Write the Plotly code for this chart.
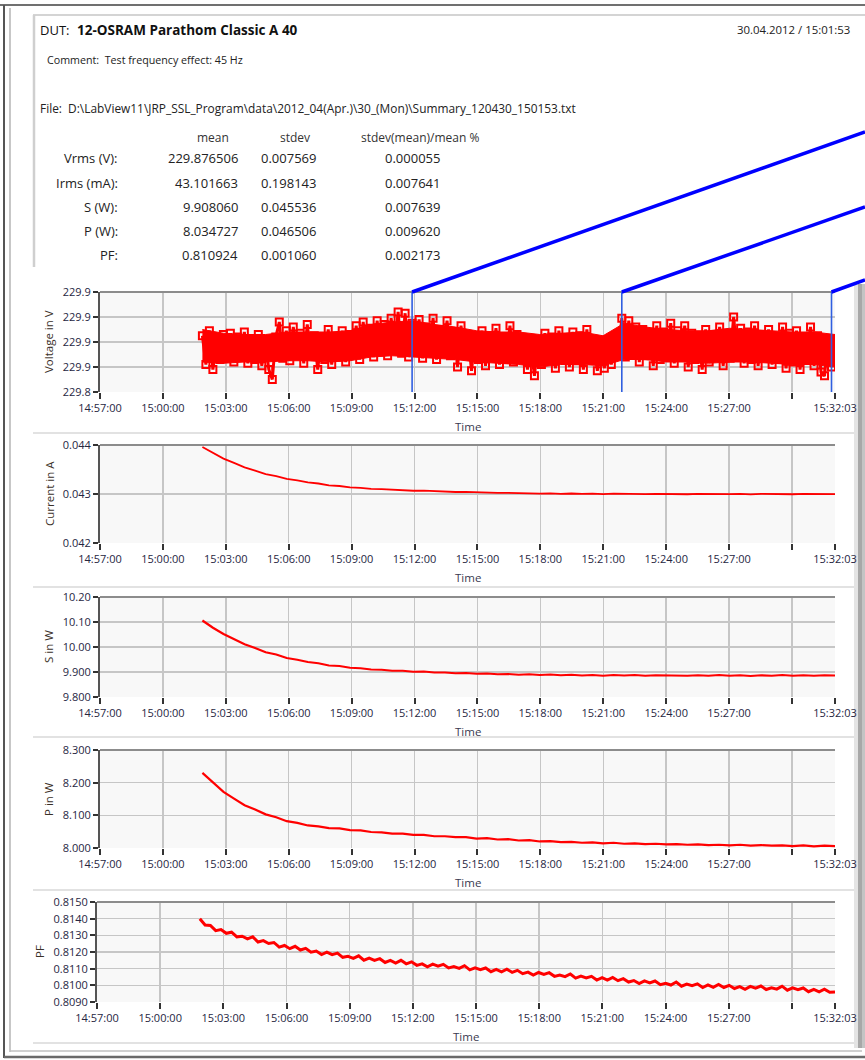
import plotly.graph_objects as go
import pandas as pd

# ---------------- data ----------------
DAY = "2012-04-30 "
axis_start = DAY + "14:57:00"
axis_end = DAY + "15:32:03"
data_start = DAY + "15:01:53"
data_end = DAY + "15:32:03"

tick_times = ["14:57:00", "15:00:00", "15:03:00", "15:06:00", "15:09:00", "15:12:00",
              "15:15:00", "15:18:00", "15:21:00", "15:24:00", "15:27:00", "15:30:00", "15:32:03"]
tick_labels = ["14:57:00", "15:00:00", "15:03:00", "15:06:00", "15:09:00", "15:12:00",
               "15:15:00", "15:18:00", "15:21:00", "15:24:00", "15:27:00", "", "15:32:03"]

cursor_times = ["15:11:53", "15:21:53", "15:31:53"]

voltage = [
    229.885, 229.862, 229.889, 229.858, 229.880, 229.866, 229.886,
    229.868, 229.887, 229.864, 229.884, 229.870, 229.888, 229.863, 229.882, 229.866,
    229.886, 229.861, 229.880, 229.858, 229.850, 229.884, 229.896, 229.867, 229.889,
    229.865, 229.892, 229.869, 229.887, 229.863, 229.894, 229.871, 229.885, 229.858,
    229.884, 229.866, 229.890, 229.862, 229.882, 229.868, 229.889, 229.864, 229.886,
    229.870, 229.893, 229.866, 229.896, 229.874, 229.891, 229.868, 229.897, 229.872,
    229.894, 229.869, 229.899, 229.876, 229.904, 229.871, 229.903, 229.868, 229.895,
    229.874, 229.898, 229.867, 229.892, 229.872, 229.899, 229.866, 229.890, 229.875,
    229.897, 229.869, 229.888, 229.860, 229.893, 229.870, 229.886, 229.857, 229.884,
    229.866, 229.889, 229.861, 229.885, 229.868, 229.891, 229.862, 229.883, 229.866,
    229.893, 229.864, 229.886, 229.870, 229.882, 229.858, 229.876, 229.853, 229.880,
    229.862, 229.887, 229.866, 229.884, 229.859, 229.889, 229.868, 229.882, 229.860,
    229.888, 229.865, 229.885, 229.858, 229.890, 229.867, 229.881, 229.857, 229.876,
    229.859, 229.879, 229.862, 229.884, 229.870, 229.899, 229.868, 229.897, 229.872,
    229.892, 229.864, 229.890, 229.869, 229.886, 229.861, 229.893, 229.866, 229.888,
    229.868, 229.895, 229.863, 229.889, 229.870, 229.893, 229.860, 229.887, 229.866,
    229.884, 229.858, 229.890, 229.864, 229.886, 229.869, 229.892, 229.861, 229.885,
    229.867, 229.900, 229.870, 229.891, 229.863, 229.888, 229.866, 229.893, 229.861,
    229.886, 229.869, 229.890, 229.862, 229.884, 229.866, 229.892, 229.859, 229.887,
    229.864, 229.889, 229.858, 229.883, 229.867, 229.892, 229.861, 229.885, 229.856,
    229.853, 229.880, 229.860, 229.874,
]

# dense core of the voltage scatter, one reading per minute (low / high edge)
voltage_core_low = [
    229.864, 229.863, 229.864, 229.864, 229.865, 229.865, 229.864, 229.865, 229.868, 229.869,
    229.868, 229.867, 229.866, 229.864, 229.863, 229.862, 229.860, 229.862, 229.862, 229.861,
    229.866, 229.866, 229.864, 229.864, 229.863, 229.864, 229.864, 229.863, 229.862, 229.862,
    229.860,
]
voltage_core_high = [
    229.890, 229.887, 229.886, 229.886, 229.888, 229.888, 229.888, 229.889, 229.894, 229.896,
    229.897, 229.894, 229.892, 229.889, 229.888, 229.888, 229.886, 229.887, 229.888, 229.885,
    229.895, 229.892, 229.890, 229.889, 229.889, 229.891, 229.890, 229.889, 229.888, 229.888,
    229.886,
]

current = [
    0.043960, 0.043835, 0.043722, 0.043634, 0.043545, 0.043478, 0.043408, 0.043365, 0.043308, 0.043276,
    0.043236, 0.043214, 0.043176, 0.043163, 0.043135, 0.043124, 0.043103, 0.043098, 0.043085, 0.043081,
    0.043066, 0.043068, 0.043055, 0.043052, 0.043041, 0.043043, 0.043031, 0.043034, 0.043022, 0.043025,
    0.043016, 0.043020, 0.043008, 0.043014, 0.043004, 0.043010, 0.043001, 0.043008, 0.042998, 0.043006,
    0.042999, 0.043005, 0.042996, 0.043004, 0.042998, 0.043006, 0.042995, 0.043003, 0.042997, 0.043005,
    0.042996, 0.043002, 0.042994, 0.043004, 0.042997, 0.043003, 0.042995, 0.043002, 0.042996, 0.043003,
    0.042998,
]

apparent_power = [
    10.106, 10.077, 10.052, 10.030, 10.011, 9.996, 9.979, 9.970, 9.956, 9.949,
    9.940, 9.935, 9.926, 9.924, 9.917, 9.915, 9.910, 9.909, 9.905, 9.905,
    9.901, 9.902, 9.898, 9.898, 9.895, 9.896, 9.893, 9.894, 9.891, 9.892,
    9.889, 9.891, 9.888, 9.890, 9.887, 9.889, 9.886, 9.888, 9.885, 9.888,
    9.886, 9.888, 9.885, 9.887, 9.886, 9.888, 9.885, 9.887, 9.885, 9.888,
    9.885, 9.887, 9.884, 9.887, 9.885, 9.888, 9.885, 9.887, 9.885, 9.887,
    9.886,
]

active_power = [
    8.230, 8.201, 8.172, 8.151, 8.131, 8.118, 8.103, 8.094, 8.082, 8.077,
    8.069, 8.066, 8.061, 8.060, 8.055, 8.054, 8.049, 8.048, 8.044, 8.044,
    8.040, 8.040, 8.036, 8.036, 8.033, 8.033, 8.029, 8.030, 8.026, 8.027,
    8.023, 8.024, 8.020, 8.021, 8.018, 8.019, 8.016, 8.017, 8.014, 8.016,
    8.013, 8.014, 8.012, 8.013, 8.011, 8.012, 8.010, 8.011, 8.009, 8.010,
    8.008, 8.010, 8.007, 8.009, 8.007, 8.008, 8.006, 8.008, 8.005, 8.007,
    8.006,
]

power_factor = [
    0.81400, 0.81362, 0.81359, 0.81328, 0.81335, 0.81312, 0.81319, 0.81291, 0.81295, 0.81279,
    0.81291, 0.81260, 0.81268, 0.81251, 0.81257, 0.81229, 0.81239, 0.81220, 0.81234, 0.81212,
    0.81222, 0.81199, 0.81206, 0.81185, 0.81199, 0.81184, 0.81193, 0.81168, 0.81174, 0.81162,
    0.81177, 0.81151, 0.81163, 0.81150, 0.81160, 0.81137, 0.81150, 0.81134, 0.81150, 0.81129,
    0.81141, 0.81120, 0.81129, 0.81111, 0.81127, 0.81115, 0.81126, 0.81104, 0.81112, 0.81102,
    0.81118, 0.81093, 0.81105, 0.81094, 0.81104, 0.81082, 0.81096, 0.81081, 0.81097, 0.81078,
    0.81090, 0.81070, 0.81079, 0.81061, 0.81077, 0.81065, 0.81076, 0.81054, 0.81062, 0.81052,
    0.81068, 0.81043, 0.81055, 0.81044, 0.81054, 0.81032, 0.81046, 0.81031, 0.81047, 0.81028,
    0.81040, 0.81020, 0.81029, 0.81011, 0.81027, 0.81015, 0.81026, 0.81004, 0.81012, 0.81002,
    0.81020, 0.80995, 0.81008, 0.80998, 0.81009, 0.80987, 0.81003, 0.80988, 0.81005, 0.80987,
    0.81000, 0.80981, 0.80992, 0.80976, 0.80994, 0.80983, 0.80996, 0.80975, 0.80985, 0.80977,
    0.80995, 0.80971, 0.80985, 0.80974, 0.80984, 0.80962, 0.80976, 0.80961, 0.80977, 0.80958,
    0.80960,
]

# summary table
table_rows = ["Vrms (V):", "Irms (mA):", "S (W):", "P (W):", "PF:"]
table_mean = ["229.876506", "43.101663", "9.908060", "8.034727", "0.810924"]
table_stdev = ["0.007569", "0.198143", "0.045536", "0.046506", "0.001060"]
table_rel = ["0.000055", "0.007641", "0.007639", "0.009620", "0.002173"]
table_cols = ["mean", "stdev", "stdev(mean)/mean %"]

dut_name = "12-OSRAM Parathom Classic A 40"
timestamp = "30.04.2012 / 15:01:53"
comment = "Comment:  Test frequency effect: 45 Hz"
file_path = "File:  D:\\LabView11\\JRP_SSL_Program\\data\\2012_04(Apr.)\\30_(Mon)\\Summary_120430_150153.txt"

# y axes: (title, range, tickvals, ticktext)
y_specs = [
    ("Voltage in V", [229.84, 229.92], [229.84, 229.86, 229.88, 229.90, 229.92],
     ["229.8", "229.9", "229.9", "229.9", "229.9"]),
    ("Current in A", [0.042, 0.044], [0.042, 0.043, 0.044], ["0.042", "0.043", "0.044"]),
    ("S in W", [9.8, 10.2], [9.8, 9.9, 10.0, 10.1, 10.2], ["9.800", "9.900", "10.00", "10.10", "10.20"]),
    ("P in W", [8.0, 8.3], [8.0, 8.1, 8.2, 8.3], ["8.000", "8.100", "8.200", "8.300"]),
    ("PF", [0.809, 0.815], [0.809, 0.810, 0.811, 0.812, 0.813, 0.814, 0.815],
     ["0.8090", "0.8100", "0.8110", "0.8120", "0.8130", "0.8140", "0.8150"]),
]

# ---------------- layout helpers ----------------
W, H = 865, 1060
def px(x):
    return x / W
def py(y):
    return 1 - y / H

FONT = "Open Sans, Noto Sans, DejaVu Sans, sans-serif"
RED = "#ff0000"
TICKC = "#26263f"
GRID = "#c6c6c6"

# panel plot areas in pixels: (left, top, right, bottom)
panels = [
    (100, 292, 835, 392),
    (100, 445, 835, 543),
    (100, 597, 835, 697),
    (100, 750, 835, 848),
    (97, 902, 835, 1002),
]
ytitle_x = [48, 49, 48, 48, 39]

fig = go.Figure()

t_v = pd.date_range(data_start, data_end, periods=len(voltage))
t_core = pd.date_range(data_start, data_end, periods=len(voltage_core_low))
t_i = pd.date_range(data_start, data_end, periods=len(current))
t_s = pd.date_range(data_start, data_end, periods=len(apparent_power))
t_p = pd.date_range(data_start, data_end, periods=len(active_power))
t_pf = pd.date_range(data_start, data_end, periods=len(power_factor))

# dense core of the voltage point cloud
fig.add_trace(go.Scatter(x=list(t_core) + list(t_core[::-1]),
                         y=voltage_core_high + voltage_core_low[::-1],
                         fill="toself", fillcolor=RED, mode="lines", line=dict(color=RED, width=1),
                         xaxis="x", yaxis="y", showlegend=False, hoverinfo="skip"))
fig.add_trace(go.Scatter(x=t_v, y=voltage, mode="lines+markers",
                         line=dict(color=RED, width=3),
                         marker=dict(symbol="square-open", size=7, color=RED, line=dict(width=2, color=RED)),
                         xaxis="x", yaxis="y", showlegend=False, hoverinfo="skip"))
fig.add_trace(go.Scatter(x=t_i, y=current, mode="lines", line=dict(color=RED, width=1.8),
                         xaxis="x2", yaxis="y2", showlegend=False, hoverinfo="skip"))
fig.add_trace(go.Scatter(x=t_s, y=apparent_power, mode="lines", line=dict(color=RED, width=2.2),
                         xaxis="x3", yaxis="y3", showlegend=False, hoverinfo="skip"))
fig.add_trace(go.Scatter(x=t_p, y=active_power, mode="lines", line=dict(color=RED, width=2.2),
                         xaxis="x4", yaxis="y4", showlegend=False, hoverinfo="skip"))
fig.add_trace(go.Scatter(x=t_pf, y=power_factor, mode="lines", line=dict(color=RED, width=3),
                         xaxis="x5", yaxis="y5", showlegend=False, hoverinfo="skip"))

layout = dict(
    width=W, height=H, autosize=False,
    margin=dict(l=0, r=0, t=0, b=0, pad=0, autoexpand=False),
    paper_bgcolor="white",
    plot_bgcolor="#f8f8f8",
    font=dict(family=FONT, size=11, color="#222"),
    showlegend=False,
)

shapes = []
annotations = []

for k, ((l, t, r, b), (ytitle, yr, yv, yt)) in enumerate(zip(panels, y_specs)):
    n = "" if k == 0 else str(k + 1)
    layout["xaxis" + n] = dict(
        type="date", range=[axis_start, axis_end], domain=[px(l), px(r)],
        anchor="y" + n, tickvals=[DAY + s for s in tick_times], ticktext=tick_labels,
        showgrid=True, gridcolor=GRID, gridwidth=1.5, zeroline=False, showline=False,
        ticks="outside", ticklen=6, tickwidth=2, tickcolor="#333", automargin=False,
        tickfont=dict(family=FONT, size=11, color=TICKC), fixedrange=True,
    )
    layout["yaxis" + n] = dict(
        range=yr, domain=[py(b), py(t)], anchor="x" + n,
        tickvals=yv, ticktext=yt, showgrid=True, gridcolor=GRID, gridwidth=1.5,
        zeroline=False, showline=True, linecolor="#555", linewidth=2, automargin=False,
        ticks="outside", ticklen=5, tickwidth=2, tickcolor="#333",
        tickfont=dict(family=FONT, size=11, color=TICKC), fixedrange=True,
    )
    # top border of plot area
    shapes.append(dict(type="line", xref="paper", yref="paper", x0=px(l), x1=px(r), y0=py(t), y1=py(t),
                       line=dict(color="#8c8c8c", width=2), layer="above"))
    # axis titles
    annotations.append(dict(text="Time", xref="paper", yref="paper", x=px((l + r) / 2), y=py(b + 34),
                            xanchor="center", yanchor="middle", showarrow=False,
                            font=dict(family=FONT, size=11.5, color="#3a3a50")))
    annotations.append(dict(text=ytitle, xref="paper", yref="paper", x=px(ytitle_x[k]), y=py((t + b) / 2),
                            xanchor="center", yanchor="middle", textangle=-90, showarrow=False,
                            font=dict(family=FONT, size=11.5, color="#3a3028")))

# cursors on voltage graph
l0, t0, r0, b0 = panels[0]
a_start = pd.Timestamp(axis_start)
a_end = pd.Timestamp(axis_end)
slant_end_y = [132, 207, 280]
for ct, ey in zip(cursor_times, slant_end_y):
    frac = (pd.Timestamp(DAY + ct) - a_start) / (a_end - a_start)
    cx = px(l0) + frac * (px(r0) - px(l0))
    shapes.append(dict(type="line", xref="paper", yref="paper", x0=cx, x1=cx, y0=py(b0), y1=py(t0),
                       line=dict(color="#2f5fe0", width=1.6), layer="above"))
    shapes.append(dict(type="line", xref="paper", yref="paper", x0=cx, x1=1.0, y0=py(t0), y1=py(ey),
                       line=dict(color="#0000ff", width=3.5), layer="above"))

# page frame and panel separators
def hline(y, x0, x1, color, width):
    shapes.append(dict(type="line", xref="paper", yref="paper", x0=px(x0), x1=px(x1), y0=py(y), y1=py(y),
                       line=dict(color=color, width=width), layer="below"))
def vline(x, y0, y1, color, width):
    shapes.append(dict(type="line", xref="paper", yref="paper", x0=px(x), x1=px(x), y0=py(y0), y1=py(y1),
                       line=dict(color=color, width=width), layer="below"))

hline(5, 0, 865, "#707070", 2)
vline(4, 5, 1058, "#555555", 2)
vline(10, 8, 1052, "#b4b4b4", 1.5)
hline(1057, 4, 865, "#6a6a6a", 2.5)
hline(1051, 10, 862, "#c0c0c0", 1.5)
hline(15, 33, 865, "#d4d4d4", 2)
vline(34, 15, 267, "#cfcfcf", 2.5)
for sy in [433, 587, 737, 890, 1043]:
    hline(sy, 33, 855, "#e2e2e2", 2)
# right shadow bar
for (x0, x1, c) in [(854, 858, "#e4e4e4"), (858, 862, "#a8a8a8"), (862, 865, "#c4c4c4")]:
    shapes.append(dict(type="rect", xref="paper", yref="paper", x0=px(x0), x1=px(x1), y0=py(1048), y1=py(284),
                       fillcolor=c, line=dict(width=0), layer="below"))

# header
annotations.append(dict(text="DUT:", xref="paper", yref="paper", x=px(38), y=py(30), xanchor="left",
                        yanchor="middle", showarrow=False, font=dict(family=FONT, size=13, color="#111")))
annotations.append(dict(text="<b>" + dut_name + "</b>", xref="paper", yref="paper", x=px(75), y=py(30),
                        xanchor="left", yanchor="middle", showarrow=False,
                        font=dict(family=FONT, size=13.5, color="#111")))
annotations.append(dict(text=timestamp, xref="paper", yref="paper", x=px(852), y=py(30), xanchor="right",
                        yanchor="middle", showarrow=False, font=dict(family=FONT, size=11.4, color="#222")))
annotations.append(dict(text=comment, xref="paper", yref="paper", x=px(45), y=py(60), xanchor="left",
                        yanchor="middle", showarrow=False, font=dict(family=FONT, size=10.7, color="#222")))
annotations.append(dict(text=file_path, xref="paper", yref="paper", x=px(38), y=py(108), xanchor="left",
                        yanchor="middle", showarrow=False, font=dict(family=FONT, size=11.9, color="#222")))

# table
col_centers = [213, 295, 420]
for c, cx in zip(table_cols, col_centers):
    annotations.append(dict(text=c, xref="paper", yref="paper", x=px(cx), y=py(138), xanchor="center",
                            yanchor="middle", showarrow=False, font=dict(family=FONT, size=12, color="#333")))
row_y = [158, 183, 207, 231, 255]
for lab, m, s, rl, ry in zip(table_rows, table_mean, table_stdev, table_rel, row_y):
    for txt, xx, anc in [(lab, 120, "right"), (m, 240, "right"), (s, 318, "right"), (rl, 442, "right")]:
        annotations.append(dict(text=txt, xref="paper", yref="paper", x=px(xx), y=py(ry), xanchor=anc,
                                yanchor="middle", showarrow=False,
                                font=dict(family=FONT, size=13, color="#222")))

layout["shapes"] = shapes
layout["annotations"] = annotations
fig.update_layout(**layout)

fig.write_html("out.html", config={"displayModeBar": False, "staticPlot": True},
               post_script="document.body.style.margin='0px';document.body.style.overflow='hidden';")
